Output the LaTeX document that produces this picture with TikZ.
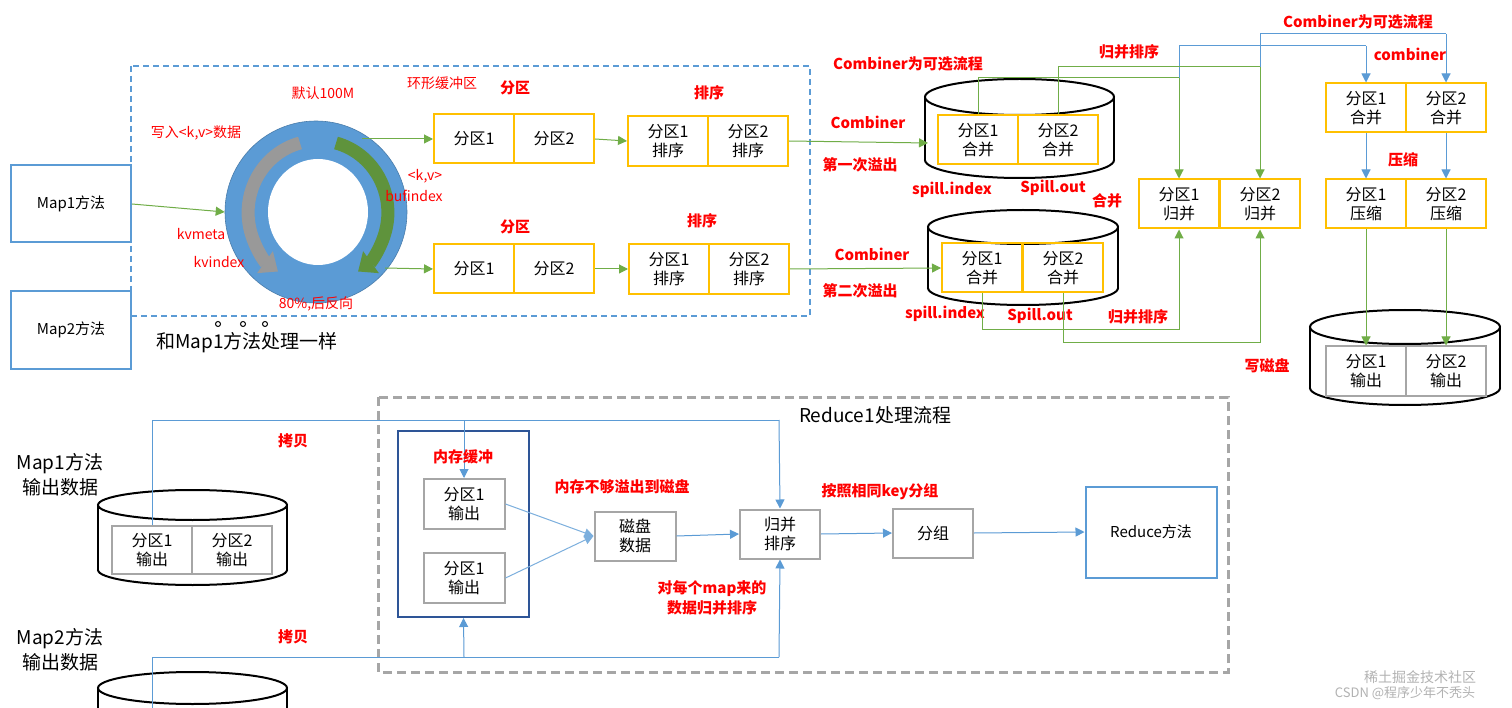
\documentclass[tikz,border=0pt]{standalone}
\usepackage{fontspec}
\setmainfont{Noto Sans CJK SC}
\usetikzlibrary{arrows.meta}
\definecolor{ye}{HTML}{FFC000}
\definecolor{gr}{HTML}{70AD47}
\definecolor{bl}{HTML}{5B9BD5}
\definecolor{dbl}{HTML}{2E5597}
\definecolor{gy}{HTML}{A6A6A6}
\definecolor{rd}{HTML}{FF0000}
\tikzset{
 ybox/.style={draw=ye,line width=2pt,minimum width=80pt,minimum height=49pt,align=center,inner sep=0pt,font=\fontsize{16}{19}\selectfont},
 gbox/.style={ybox,draw=gy},
 rl/.style={text=rd,font=\bfseries\fontsize{15}{18}\selectfont,align=center},
 rn/.style={text=rd,font=\fontsize{14}{17}\selectfont,align=center},
 ga/.style={draw=gr,line width=1pt,-{Triangle[width=9pt,length=9pt]}},
 ba/.style={draw=bl,line width=1pt,-{Triangle[width=9pt,length=9pt]}},
 gl/.style={draw=gr,line width=1pt},
 bline/.style={draw=bl,line width=1pt},
 mapbox/.style={draw=bl,line width=2pt,minimum width=120pt,minimum height=77pt,font=\fontsize{15}{18}\selectfont},
 big/.style={align=center,font=\fontsize{19}{25}\selectfont},
}
\newcommand{\mycyl}[5]{% x1 x2 ytopc ybotc ry
 \fill[white] ({(#1+#2)/2},#4) ellipse[x radius={(#2-#1)/2},y radius=#5] ;
 \draw[line width=2pt] ({(#1+#2)/2},#4) ellipse[x radius={(#2-#1)/2},y radius=#5];
 \fill[white] (#1,#3) rectangle (#2,#4);
 \draw[line width=2pt] (#1,#3) -- (#1,#4) (#2,#3) -- (#2,#4);
 \draw[line width=2pt,fill=white] ({(#1+#2)/2},#3) ellipse[x radius={(#2-#1)/2},y radius=#5];
}
\begin{document}
\begin{tikzpicture}[x=1pt,y=-1pt]
\useasboundingbox (0,0) rectangle (1512,708);
\fill[white] (0,0) rectangle (1512,708);
\draw[bl,line width=1.5pt,dash pattern=on 6pt off 4pt] (131,66) rectangle (810,316);
\draw[gray!70,line width=3pt,dash pattern=on 9pt off 5pt] (378,397) rectangle (1228,672);
\node[mapbox] (map1) at (71,204) {Map1方法};
\node[mapbox] (map2) at (71,330) {Map2方法};
% ring
\node[circle,fill=bl,draw=bl!80!black,line width=0.6pt,minimum size=182pt] (ring) at (316,212) {};
\fill[white] (318,212) ellipse[x radius=50,y radius=53];
\draw[gray!80,line width=13pt,-{Triangle[width=26pt,length=16pt]}] (300,143) arc[start angle=-105,end angle=-235,x radius=70,y radius=72];
\draw[gr!85!black,line width=13pt,-{Triangle[width=26pt,length=16pt]}] (336,143) arc[start angle=-75,end angle=55,x radius=70,y radius=72];
\draw[ga] (map1.east) -- (ring.west);
\node[rn] at (196,133) {写入<k,v>数据};
\node[rn] at (323,93) {默认100M};
\node[rn] at (442,83) {环形缓冲区};
\node[rn] at (201,234) {kvmeta};
\node[rn] at (219,262) {kvindex};
\node[rn] at (425,176) {<k,v>};
\node[rn] at (414,196) {bufindex};
\node[rn] at (316,304) {80\%,后反向};
\node[rl] at (515,88) {分区};
\node[rl] at (709,93) {排序};
\node[rl] at (515,227) {分区};
\node[rl] at (702,221) {排序};
\node[ybox] (p1a) at (474,139) {分区1};
\node[ybox] (p1b) at (554,139) {分区2};
\node[ybox,minimum height=50pt] (s1a) at (668,141) {分区1\\排序};
\node[ybox,minimum height=50pt] (s1b) at (748,141) {分区2\\排序};
\node[ybox] (p2a) at (474,269) {分区1};
\node[ybox] (p2b) at (554,269) {分区2};
\node[ybox,minimum height=50pt] (s2a) at (669,269) {分区1\\排序};
\node[ybox,minimum height=50pt] (s2b) at (749,269) {分区2\\排序};
\coordinate (r1o) at (362,139);
\coordinate (r2o) at (385,268);
\draw[ga] (r1o) -- (p1a.west);
\draw[ga] (r2o) -- (p2a.west);
\draw[ga] (p1b.east) -- (s1a.west);
\draw[ga] (p2b.east) -- (s2a.west);
\node[big] at (247,343) {和Map1方法处理一样};
\foreach \x in {218,243,265} \draw[line width=1pt] (\x,324) circle[radius=2.5];
\mycyl{925}{1114}{97}{160}{18}
\mycyl{928}{1118}{227}{288}{17}
\mycyl{1310}{1500}{327}{388}{17}
\node[ybox] (c1a) at (978,140) {分区1\\合并};
\node[ybox] (c1b) at (1058,140) {分区2\\合并};
\node[ybox] (c2a) at (982,268) {分区1\\合并};
\node[ybox] (c2b) at (1063,268) {分区2\\合并};
\coordinate (c1in) at (928,143);
\draw[ga] (s1b.east) -- (c1in);
\draw[ga] (s2b.east) -- (c2a.west);
\node[rl] at (868,122) {Combiner};
\node[rl] at (860,165) {第一次溢出};
\node[rl] at (872,254) {Combiner};
\node[rl] at (860,291) {第二次溢出};
\node[rl] at (908,64) {Combiner为可选流程};
\node[rl] at (952,190) {spill.index};
\node[rl] at (1053,188) {Spill.out};
\node[rl] at (1107,201) {合并};
\node[rl] at (945,314) {spill.index};
\node[rl] at (1040,316) {Spill.out};
\node[rl] at (1138,317) {归并排序};
\node[rl] at (1129,52) {归并排序};
\node[rl] at (1358,22) {Combiner为可选流程};
\node[rl] at (1410,54) {combiner};
\node[rl] at (1403,160) {压缩};
\node[rl] at (1267,366) {写磁盘};
\node[ybox] (m1) at (1179,204) {分区1\\归并};
\node[ybox] (m2) at (1260,204) {分区2\\归并};
\node[ybox] (k1) at (1366,108) {分区1\\合并};
\node[ybox] (k2) at (1446,108) {分区2\\合并};
\node[ybox] (z1) at (1366,204) {分区1\\压缩};
\node[ybox] (z2) at (1446,204) {分区2\\压缩};
\node[gbox] (o1) at (1366,371) {分区1\\输出};
\node[gbox] (o2) at (1446,371) {分区2\\输出};
\draw[bline] (1179,78) -- (1179,46) -- (1366,46);
\draw[ba] (1366,46) -- (k1.north);
\draw[bline] (1260,67) -- (1260,34) -- (1446,34);
\draw[ba] (1446,34) -- (k2.north);
\draw[gl] (c1a.north) -- (978,78) -- (1179,78);
\draw[ga] (1179,78) -- (m1.north);
\draw[gl] (c1b.north) -- (1058,67) -- (1260,67);
\draw[ga] (1260,67) -- (m2.north);
\draw[gl] (c2a.south) -- (982,330) -- (1179,330);
\draw[ga] (1179,330) -- (m1.south);
\draw[gl] (c2b.south) -- (1063,343) -- (1260,343);
\draw[ga] (1260,343) -- (m2.south);
\draw[ba] (k1.south) -- (z1.north);
\draw[ba] (k2.south) -- (z2.north);
\draw[ga] (z1.south) -- (o1.north);
\draw[ga] (z2.south) -- (o2.north);
% bottom
\node[big] at (875,415) {Reduce1处理流程};
\node[big] at (60,475) {Map1方法\\输出数据};
\node[big] at (60,650) {Map2方法\\输出数据};
\mycyl{98}{287}{505}{570}{15}
\fill[white] (98,688) rectangle (287,710);
\draw[line width=2pt] (98,710) -- (98,688) (287,688) -- (287,710);
\draw[line width=2pt,fill=white] (192.5,688) ellipse[x radius=94.5,y radius=16];
\node[gbox,minimum height=48pt] (b1) at (152,550) {分区1\\输出};
\node[gbox,minimum height=48pt] (b2) at (232,550) {分区2\\输出};
\node[draw=dbl,line width=2pt,minimum width=131pt,minimum height=186pt] (frame) at (463.5,524) {};
\node[gbox,minimum width=81pt,minimum height=50pt] (r1) at (464,504) {分区1\\输出};
\node[gbox,minimum width=81pt,minimum height=50pt] (r2) at (464,578) {分区1\\输出};
\node[gbox,minimum width=81pt] (disk) at (635,536) {磁盘\\数据};
\node[gbox] (ms) at (780,534) {归并\\排序};
\node[gbox] (grp) at (933,533) {分组};
\node[draw=bl,line width=2pt,minimum width=131pt,minimum height=91pt,font=\fontsize{15}{18}\selectfont] (rd) at (1151,532) {Reduce方法};
\draw[bline] (b1.north) -- (152,420) -- (779,420);
\draw[ba] (464,420) -- (r1.north);
\draw[ba] (779,420) -- (ms.north);
\coordinate (cy5) at (152,708);
\draw[bline] (cy5) -- (152,657) -- (779,657);
\draw[ba] (464,657) -- (frame.south);
\draw[ba] (779,657) -- (ms.south);
\draw[ba,draw=bl!80] (r1.east) -- (disk.west);
\draw[ba,draw=bl!80] (r2.east) -- (disk.west);
\draw[ba] (disk.east) -- (ms.west);
\draw[ba] (ms.east) -- (grp.west);
\draw[ba] (grp.east) -- (rd.west);
\node[rl] at (293,441) {拷贝};
\node[rl] at (293,637) {拷贝};
\node[rl] at (463,457) {内存缓冲};
\node[rl] at (622,487) {内存不够溢出到磁盘};
\node[rl,font=\bfseries\fontsize{15}{20}\selectfont] at (712,598) {对每个map来的\\数据归并排序};
\node[rl] at (880,492) {按照相同key分组};
\node[text=gray!60,font=\fontsize{14}{16}\selectfont] at (1420,677) {稀土掘金技术社区};
\node[text=gray!60,font=\fontsize{13}{15}\selectfont] at (1405,693) {CSDN @程序少年不秃头};
\end{tikzpicture}
\end{document}
